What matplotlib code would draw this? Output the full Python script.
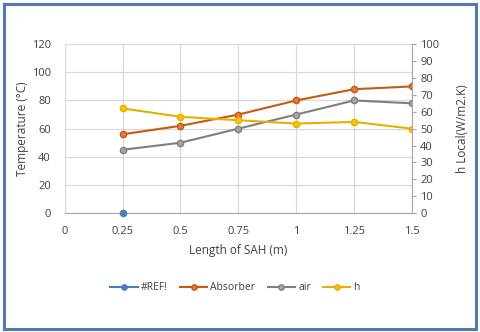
import matplotlib
matplotlib.use("Agg")
import matplotlib.pyplot as plt
from matplotlib.patches import Rectangle

plt.rcParams['font.family'] = ['Open Sans', 'DejaVu Sans']

# data
length = [0.25, 0.5, 0.75, 1.0, 1.25, 1.5]
ref_x = [0.25]
ref_y = [0]
absorber = [56, 62, 70, 80, 88, 90]
air = [45, 50, 60, 70, 80, 78]
h_local = [62, 57, 55, 53, 54, 50]

x_ticks = [0, 0.25, 0.5, 0.75, 1, 1.25, 1.5]
x_labels = ['0', '0.25', '0.5', '0.75', '1', '1.25', '1.5']

txt = '#404040'
grid_c = '#d9d9d9'

fig = plt.figure(figsize=(4.8, 3.32), dpi=100)
fig.patch.set_facecolor('white')
# blue frame round the chart
fig.patches.append(Rectangle((0.008, 0.01), 0.984, 0.978, transform=fig.transFigure,
                             fill=False, edgecolor='#4f7bb0', linewidth=2.2))

ax = fig.add_axes([0.135, 0.358, 0.723, 0.509])
ax2 = ax.twinx()

l1, = ax.plot(ref_x, ref_y, '-o', color='#4a7ebb', markersize=4.5, lw=1.5, label='#REF!', clip_on=False, zorder=5)
l2, = ax.plot(length, absorber, '-o', color='#c55a11', mfc='#e07b39', markersize=4.5, lw=1.5, label='Absorber')
l3, = ax.plot(length, air, '-o', color='#7f7f7f', mfc='#a5a5a5', markersize=4.5, lw=1.5, label='air')
l4, = ax2.plot(length, h_local, '-o', color='#e6b000', mfc='#ffc000', markersize=4.5, lw=1.5, label='h')

ax.set_xlim(0, 1.5)
ax.set_ylim(0, 120)
ax.set_yticks(range(0, 121, 20))
ax.set_xticks(x_ticks)
ax.set_xticklabels(x_labels)
ax2.set_ylim(0, 100)
ax2.set_yticks(range(0, 101, 10))

ax.grid(True, color=grid_c, lw=0.9)
ax.set_axisbelow(True)
for s in ['top', 'left']:
    ax.spines[s].set_visible(False)
    ax2.spines[s].set_visible(False)
ax.spines['right'].set_visible(False)
ax.spines['bottom'].set_color('#a6a6a6')
ax2.spines['bottom'].set_visible(False)
ax2.spines['right'].set_color('#a6a6a6')

ax.tick_params(axis='y', length=0, labelsize=8, colors=txt, pad=10)
ax.tick_params(axis='x', length=0, labelsize=8, colors=txt, pad=9)
ax2.tick_params(axis='y', length=3, color='#a6a6a6', labelsize=8, colors=txt, pad=3)

ax.set_xlabel('Length of SAH (m)', fontsize=8.5, color=txt, labelpad=5)
ax.set_ylabel('Temperature (°C)', fontsize=8.5, color=txt, labelpad=2)
ax2.set_ylabel('h Local(W/m2.K)', fontsize=8.5, color=txt, labelpad=12)

fig.legend(handles=[l1, l2, l3, l4], loc='center', bbox_to_anchor=(0.49, 0.133), ncol=4,
           frameon=False, fontsize=7.5, handlelength=2.6, columnspacing=1.2, handletextpad=0.3,
           labelcolor=txt, markerscale=0.85)

fig.savefig('out.png', dpi=100)
